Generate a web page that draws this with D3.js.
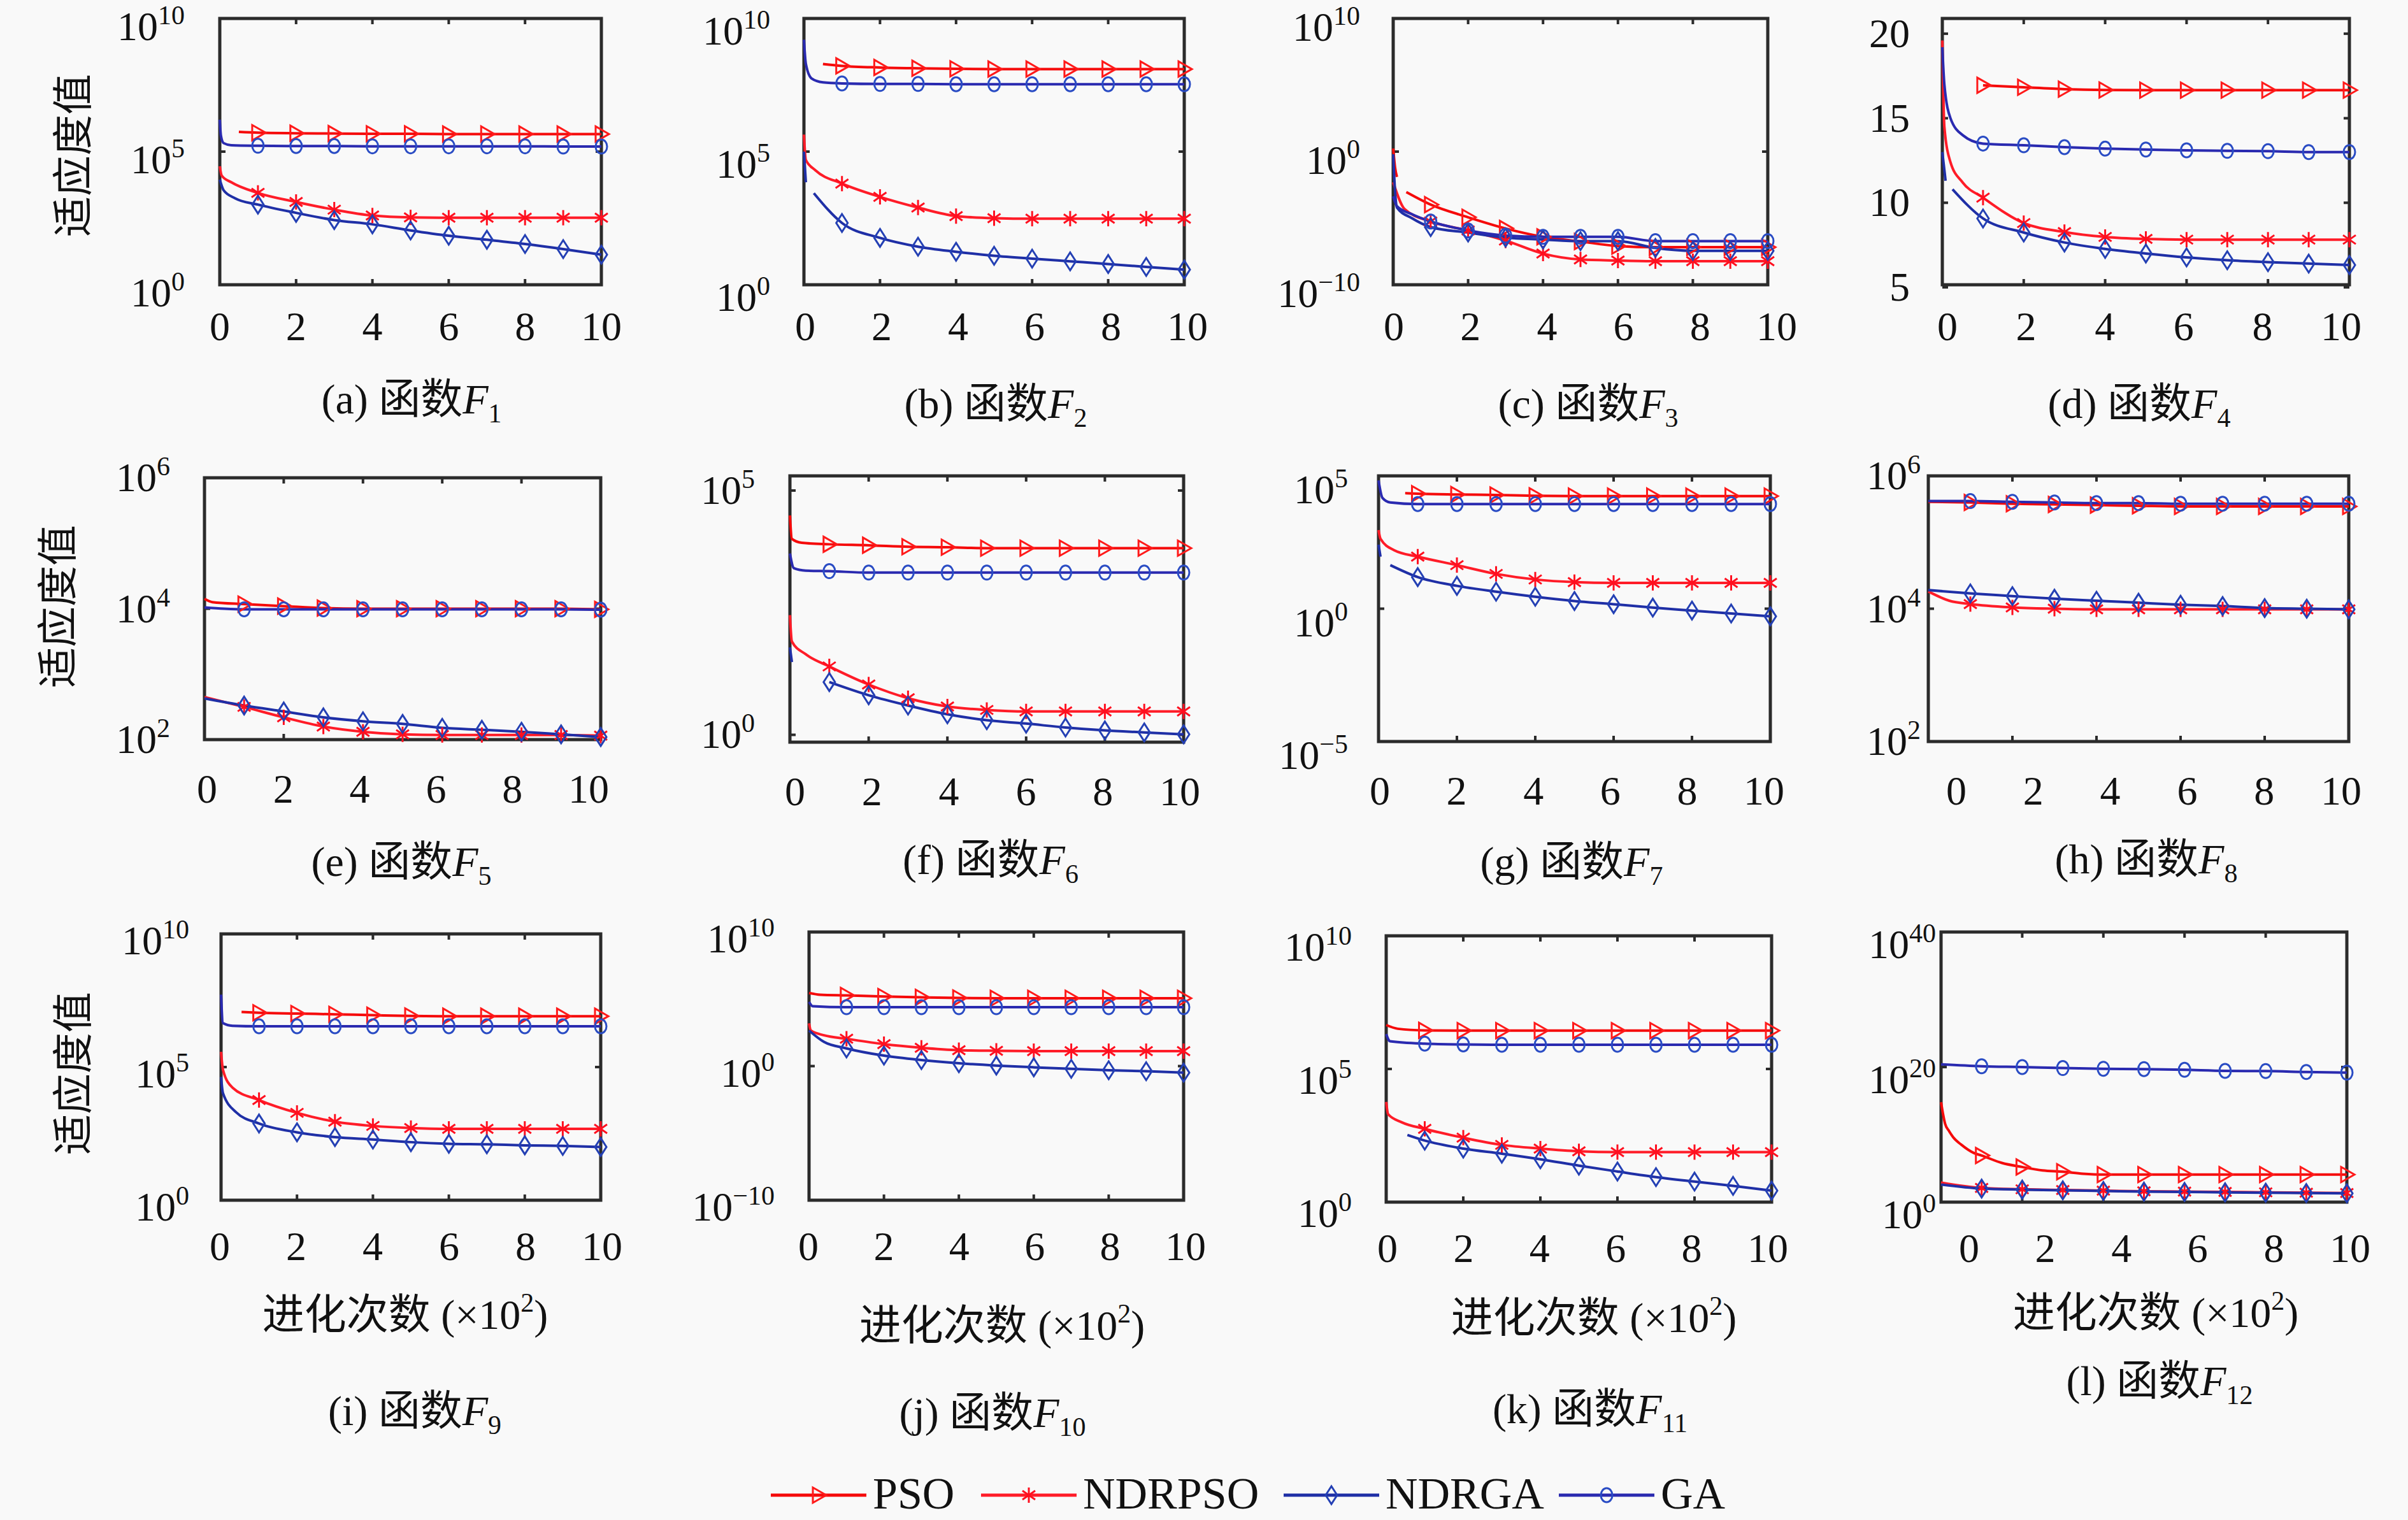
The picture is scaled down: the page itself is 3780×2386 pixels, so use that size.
<!DOCTYPE html>
<html>
<head>
<meta charset="utf-8">
<script src="https://cdn.jsdelivr.net/npm/d3@7"></script>
<style>
    html, body { margin: 0; padding: 0; background: #f9f9f9; }
    svg { display: block; }
    text { font-family: 'Liberation Serif', 'Noto Sans CJK SC', serif; fill: #111; }
</style>
</head>
<body>
<svg id="chart" width="3780" height="2386"></svg>
<script>
// ---------- data: [generation (x10^2), log10(fitness)]  (F4 is linear) ----------
const seriesNames = ["PSO", "NDRPSO", "NDRGA", "GA"];
const xTickValues = [0, 2, 4, 6, 8, 10];

const F1_PSO    = [[0.5,5.74],[1,5.71],[2,5.69],[3,5.68],[4,5.67],[5,5.67],[6,5.66],[7,5.66],[8,5.66],[9,5.66],[10,5.66]];
const F1_NDRPSO = [[0,4.45],[0.05,4.1],[0.3,3.85],[1,3.45],[2,3.11],[3,2.82],[4,2.6],[5,2.53],[6,2.52],[7,2.52],[8,2.52],[9,2.52],[10,2.52]];
const F1_NDRGA  = [[0,3.95],[0.1,3.55],[0.4,3.25],[1,3.01],[2,2.7],[3,2.43],[4,2.27],[5,2.04],[6,1.84],[7,1.69],[8,1.53],[9,1.34],[10,1.13]];
const F1_GA     = [[0,6.2],[0.03,5.6],[0.1,5.32],[0.3,5.24],[1,5.22],[2,5.21],[3,5.21],[4,5.2],[5,5.2],[6,5.2],[7,5.2],[8,5.2],[9,5.19],[10,5.19]];

const F2_PSO    = [[0.5,8.29],[1,8.22],[2,8.16],[3,8.13],[4,8.11],[5,8.1],[6,8.1],[7,8.1],[8,8.1],[9,8.1],[10,8.1]];
const F2_NDRPSO = [[0,5.64],[0.05,4.69],[0.3,4.3],[1,3.8],[2,3.3],[3,2.9],[4,2.58],[5,2.5],[6,2.48],[7,2.48],[8,2.48],[9,2.48],[10,2.48]];
const F2_NDRGA  = [[0,5.0],[0.05,3.85],[0.1,null],[0.26,3.44],[1,2.32],[2,1.76],[3,1.43],[4,1.24],[5,1.09],[6,0.98],[7,0.88],[8,0.78],[9,0.67],[10,0.57]];
const F2_GA     = [[0,9.2],[0.05,8.3],[0.2,7.75],[0.5,7.6],[1,7.56],[2,7.54],[3,7.54],[4,7.53],[5,7.53],[6,7.53],[7,7.53],[8,7.53],[9,7.53],[10,7.53]];

const F3_PSO    = [[0,0.23],[0.05,-1.2],[0.1,-1.9],[0.15,null],[0.35,-3.04],[1,-3.98],[2,-4.93],[3,-5.77],[4,-6.4],[5,-6.75],[6,-7.09],[7,-7.18],[8,-7.18],[9,-7.18],[10,-7.18]];
const F3_NDRPSO = [[0,-2.3],[0.3,-4.3],[1,-5.25],[2,-5.92],[3,-6.68],[4,-7.66],[5,-8.1],[6,-8.18],[7,-8.23],[8,-8.23],[9,-8.23],[10,-8.23]];
const F3_NDRGA  = [[0,-0.2],[0.05,-3.0],[0.1,-4.2],[0.5,-5.0],[1,-5.67],[2,-6.08],[3,-6.46],[4,-6.6],[5,-6.72],[6,-6.72],[7,-7.24],[8,-7.45],[9,-7.45],[10,-7.45]];
const F3_GA     = [[0,-3.36],[0.1,-4.1],[0.5,-4.7],[1,-5.25],[2,-5.92],[3,-6.3],[4,-6.4],[5,-6.4],[6,-6.4],[7,-6.72],[8,-6.72],[9,-6.72],[10,-6.72]];

const F4_PSO    = [[1,16.95],[2,16.83],[3,16.72],[4,16.67],[5,16.66],[6,16.66],[7,16.66],[8,16.66],[9,16.66],[10,16.66]];
const F4_NDRPSO = [[0,19.6],[0.05,14.5],[0.2,12.4],[0.5,11.2],[1,10.3],[2,8.8],[3,8.27],[4,7.98],[5,7.86],[6,7.82],[7,7.82],[8,7.82],[9,7.82],[10,7.82]];
const F4_NDRGA  = [[0,13.0],[0.08,11.3],[0.15,null],[0.25,10.8],[1,9.07],[2,8.24],[3,7.65],[4,7.27],[5,7.0],[6,6.77],[7,6.6],[8,6.49],[9,6.4],[10,6.32]];
const F4_GA     = [[0,19.2],[0.05,17.0],[0.2,15.0],[0.5,14.0],[1,13.5],[2,13.4],[3,13.29],[4,13.2],[5,13.15],[6,13.1],[7,13.07],[8,13.05],[9,13.0],[10,13.0]];

const F5_PSO    = [[0,4.15],[0.2,4.1],[1,4.07],[2,4.04],[3,4.01],[4,4.0],[5,4.0],[6,4.0],[7,4.0],[8,4.0],[9,4.0],[10,3.99]];
const F5_NDRPSO = [[0,2.65],[1,2.5],[2,2.34],[3,2.2],[4,2.12],[5,2.08],[6,2.07],[7,2.07],[8,2.07],[9,2.07],[10,2.06]];
const F5_NDRGA  = [[0,2.63],[1,2.52],[2,2.43],[3,2.34],[4,2.28],[5,2.24],[6,2.18],[7,2.15],[8,2.12],[9,2.08],[10,2.04]];
const F5_GA     = [[0,4.02],[0.5,4.0],[1,3.99],[2,3.99],[3,3.99],[4,3.99],[5,3.99],[6,3.99],[7,3.99],[8,3.99],[9,3.99],[10,3.985]];

const F6_PSO    = [[0,4.49],[0.05,4.01],[0.3,3.93],[1,3.9],[2,3.88],[3,3.85],[4,3.84],[5,3.82],[6,3.82],[7,3.82],[8,3.82],[9,3.82],[10,3.82]];
const F6_NDRPSO = [[0,2.45],[0.05,1.91],[0.4,1.65],[1,1.4],[2,1.03],[3,0.75],[4,0.58],[5,0.51],[6,0.48],[7,0.48],[8,0.48],[9,0.48],[10,0.48]];
const F6_NDRGA  = [[0,1.79],[0.05,1.49],[0.1,null],[1,1.08],[2,0.81],[3,0.6],[4,0.42],[5,0.3],[6,0.23],[7,0.15],[8,0.09],[9,0.05],[10,0.01]];
const F6_GA     = [[0,3.71],[0.1,3.41],[0.4,3.36],[1,3.35],[2,3.32],[3,3.32],[4,3.32],[5,3.32],[6,3.32],[7,3.32],[8,3.32],[9,3.32],[10,3.32]];

const F7_PSO    = [[0.68,4.35],[1,4.33],[2,4.3],[3,4.28],[4,4.25],[5,4.24],[6,4.24],[7,4.24],[8,4.24],[9,4.24],[10,4.24]];
const F7_NDRPSO = [[0,2.96],[0.05,2.63],[0.4,2.2],[1,1.96],[2,1.64],[3,1.31],[4,1.1],[5,1.0],[6,0.97],[7,0.97],[8,0.97],[9,0.97],[10,0.97]];
const F7_NDRGA  = [[0,2.41],[0.05,1.96],[0.15,null],[0.3,1.64],[1,1.19],[2,0.86],[3,0.64],[4,0.45],[5,0.29],[6,0.17],[7,0.04],[8,-0.07],[9,-0.18],[10,-0.29]];
const F7_GA     = [[0,4.83],[0.1,4.17],[0.3,4.0],[1,3.94],[2,3.94],[3,3.94],[4,3.94],[5,3.94],[6,3.94],[7,3.94],[8,3.94],[9,3.94],[10,3.94]];

const F8_PSO    = [[0,5.61],[1,5.6],[2,5.58],[3,5.57],[4,5.56],[5,5.55],[6,5.54],[7,5.54],[8,5.54],[9,5.54],[10,5.54]];
const F8_NDRPSO = [[0,4.26],[0.5,4.12],[1,4.07],[2,4.02],[3,4.0],[4,3.99],[5,3.99],[6,3.99],[7,3.99],[8,3.99],[9,3.99],[10,3.99]];
const F8_NDRGA  = [[0,4.28],[1,4.23],[2,4.19],[3,4.15],[4,4.12],[5,4.09],[6,4.06],[7,4.04],[8,4.01],[9,4.0],[10,3.99]];
const F8_GA     = [[0,5.62],[1,5.62],[2,5.61],[3,5.6],[4,5.59],[5,5.59],[6,5.58],[7,5.58],[8,5.58],[9,5.58],[10,5.58]];

const F9_PSO    = [[0.54,7.07],[1,7.04],[2,7.01],[3,6.98],[4,6.95],[5,6.92],[6,6.91],[7,6.91],[8,6.91],[9,6.91],[10,6.91]];
const F9_NDRPSO = [[0,5.57],[0.05,4.9],[0.3,4.23],[1,3.76],[2,3.28],[3,2.95],[4,2.79],[5,2.71],[6,2.68],[7,2.68],[8,2.68],[9,2.68],[10,2.68]];
const F9_NDRGA  = [[0,4.63],[0.05,4.02],[0.4,3.3],[1,2.88],[2,2.55],[3,2.37],[4,2.28],[5,2.18],[6,2.12],[7,2.1],[8,2.06],[9,2.04],[10,2.0]];
const F9_GA     = [[0,7.72],[0.05,6.65],[0.3,6.55],[1,6.53],[2,6.53],[3,6.53],[4,6.53],[5,6.53],[6,6.53],[7,6.53],[8,6.53],[9,6.53],[10,6.53]];

const F10_PSO    = [[0,5.45],[0.3,5.32],[1,5.27],[2,5.19],[3,5.13],[4,5.08],[5,5.06],[6,5.06],[7,5.06],[8,5.06],[9,5.06],[10,5.06]];
const F10_NDRPSO = [[0,3.19],[0.05,2.65],[0.4,2.3],[1,2.04],[2,1.64],[3,1.37],[4,1.19],[5,1.14],[6,1.12],[7,1.12],[8,1.12],[9,1.12],[10,1.12]];
const F10_NDRGA  = [[0,2.65],[0.4,1.8],[1,1.32],[2,0.78],[3,0.45],[4,0.21],[5,0.04],[6,-0.09],[7,-0.2],[8,-0.31],[9,-0.38],[10,-0.49]];
const F10_GA     = [[0,4.79],[0.1,4.47],[1,4.39],[2,4.39],[3,4.39],[4,4.39],[5,4.39],[6,4.39],[7,4.39],[8,4.39],[9,4.39],[10,4.39]];

const F11_PSO    = [[0,6.65],[0.3,6.51],[1,6.45],[2,6.44],[3,6.44],[4,6.44],[5,6.44],[6,6.44],[7,6.44],[8,6.44],[9,6.44],[10,6.44]];
const F11_NDRPSO = [[0,3.76],[0.05,3.3],[0.4,3.0],[1,2.75],[2,2.42],[3,2.15],[4,2.01],[5,1.91],[6,1.88],[7,1.88],[8,1.88],[9,1.88],[10,1.88]];
const F11_NDRGA  = [[0.55,2.52],[1,2.31],[2,2.01],[3,1.82],[4,1.61],[5,1.37],[6,1.15],[7,0.94],[8,0.77],[9,0.61],[10,0.43]];
const F11_GA     = [[0,6.31],[0.1,6.04],[1,5.95],[2,5.92],[3,5.91],[4,5.91],[5,5.91],[6,5.91],[7,5.91],[8,5.91],[9,5.91],[10,5.91]];

const F12_PSO    = [[0,14.8],[0.05,13.0],[0.1,11.6],[0.2,10.5],[0.3,9.6],[0.5,8.5],[0.8,7.3],[1,6.9],[1.5,5.8],[2,5.2],[2.5,4.7],[3,4.5],[3.5,4.2],[4,4.08],[5,4.08],[6,4.08],[7,4.08],[8,4.08],[9,4.08],[10,4.08]];
const F12_NDRPSO = [[0,2.9],[1,2.1],[2,1.9],[3,1.8],[4,1.7],[5,1.6],[6,1.55],[7,1.5],[8,1.45],[9,1.4],[10,1.35]];
const F12_NDRGA  = [[0,2.6],[1,2.0],[2,1.85],[3,1.75],[4,1.65],[5,1.55],[6,1.5],[7,1.45],[8,1.4],[9,1.35],[10,1.3]];
const F12_GA     = [[0,20.4],[1,20.12],[2,20.0],[3,19.85],[4,19.75],[5,19.7],[6,19.59],[7,19.43],[8,19.4],[9,19.27],[10,19.17]];

// y axis domain and ticks per function (exponents of 10, F4 linear)
const yDomains = [[0,10],[0,10],[-10,10],[5.15,20.9],[2,6],[-0.15,5.3],[-5,5],[2,6],[0,10],[-10,10],[0,10],[0,40]];
const yTickValues = [[0,5,10],[0,5,10],[-10,0,10],[5,10,15,20],[2,4,6],[0,5],[-5,0,5],[2,4,6],[0,5,10],[-10,0,10],[0,5,10],[0,20,40]];
const panelLetters = ["a","b","c","d","e","f","g","h","i","j","k","l"];

const funcSeries = [
    [F1_PSO, F1_NDRPSO, F1_NDRGA, F1_GA],
    [F2_PSO, F2_NDRPSO, F2_NDRGA, F2_GA],
    [F3_PSO, F3_NDRPSO, F3_NDRGA, F3_GA],
    [F4_PSO, F4_NDRPSO, F4_NDRGA, F4_GA],
    [F5_PSO, F5_NDRPSO, F5_NDRGA, F5_GA],
    [F6_PSO, F6_NDRPSO, F6_NDRGA, F6_GA],
    [F7_PSO, F7_NDRPSO, F7_NDRGA, F7_GA],
    [F8_PSO, F8_NDRPSO, F8_NDRGA, F8_GA],
    [F9_PSO, F9_NDRPSO, F9_NDRGA, F9_GA],
    [F10_PSO, F10_NDRPSO, F10_NDRGA, F10_GA],
    [F11_PSO, F11_NDRPSO, F11_NDRGA, F11_GA],
    [F12_PSO, F12_NDRPSO, F12_NDRGA, F12_GA]
];

// ---------- layout (pixel boxes of each panel, label nudges) ----------
const layout = [
    {x0:345,  x1:944,  y0:29,   y1:447,  yDy:13, yGap:55, xl:[0,0],    xDy:66, cap:[646,627]},
    {x0:1262, x1:1859, y0:29,   y1:447,  yDy:20, yGap:53, xl:[2,5],    xDy:66, cap:[1563,634]},
    {x0:2187, x1:2775, y0:29,   y1:447,  yDy:14, yGap:52, xl:[1,14],   xDy:66, cap:[2493,634]},
    {x0:3049, x1:3688, y0:29,   y1:447,  yDy:0,  yGap:51, xl:[8,-13],  xDy:66, cap:[3358,634]},
    {x0:321,  x1:943,  y0:750,  y1:1161, yDy:0,  yGap:54, xl:[4,-19],  xDy:78, cap:[630,1353]},
    {x0:1240, x1:1858, y0:747,  y1:1165, yDy:0,  yGap:55, xl:[8,-6],   xDy:78, cap:[1555,1350]},
    {x0:2164, x1:2779, y0:747,  y1:1164, yDy:22, yGap:48, xl:[2,-10],  xDy:78, cap:[2467,1353]},
    {x0:3027, x1:3687, y0:747,  y1:1164, yDy:0,  yGap:12, xl:[44,-12], xDy:78, cap:[3369,1349]},
    {x0:347,  x1:943,  y0:1466, y1:1884, yDy:11, yGap:50, xl:[-2,2],   xDy:73, cap:[651,2215],  xt:[636,2064]},
    {x0:1270, x1:1858, y0:1463, y1:1884, yDy:11, yGap:54, xl:[-1,3],   xDy:73, cap:[1558,2218], xt:[1573,2081]},
    {x0:2176, x1:2781, y0:1469, y1:1887, yDy:18, yGap:54, xl:[2,-6],   xDy:73, cap:[2496,2212], xt:[2502,2069]},
    {x0:3047, x1:3684, y0:1463, y1:1887, yDy:20, yGap:8,  xl:[44,5],   xDy:73, cap:[3390,2168], xt:[3384,2061]}
];
const yTitlePos = [[115,244],[91,952],[115,1685]];

const style = {
    PSO:    {line:"#f50a0a", mark:"#ff1a1a", shape:"tri"},
    NDRPSO: {line:"#ff1c28", mark:"#ff0f1f", shape:"star"},
    NDRGA:  {line:"#1f2fa6", mark:"#2440b4", shape:"diamond"},
    GA:     {line:"#2a2ab0", mark:"#2a4cc4", shape:"circle"}
};

function markerPath(shape) {
    if (shape === "tri") return "M-9,-12L12,0L-9,12Z";
    if (shape === "diamond") return "M0,-14L9,0L0,14L-9,0Z";
    if (shape === "star") return "M0,-12V12M-10,-7L10,7M-10,7L10,-7";
    return null;
}

function drawMarker(sel, shape, color) {
    if (shape === "circle") {
        sel.append("ellipse").attr("rx", 9).attr("ry", 11)
            .attr("fill", "none").attr("stroke", color).attr("stroke-width", 3);
    } else {
        sel.append("path").attr("d", markerPath(shape))
            .attr("fill", "none").attr("stroke", color).attr("stroke-width", 3);
    }
}

const svg = d3.select("#chart");
svg.append("rect").attr("width", 3780).attr("height", 2386).attr("fill", "#f9f9f9");

layout.forEach(function(p, i) {
    const g = svg.append("g").attr("class", "panel");
    const isLog = i !== 3;
    const dom = yDomains[i];
    const toVal = v => isLog ? Math.pow(10, v) : v;

    let x = d3.scaleLinear().domain([0, 10]).range([p.x0, p.x1]);
    let xLab = d3.scaleLinear().domain([0, 10]).range([p.x0 + p.xl[0], p.x1 + p.xl[1]]);
    let y = isLog
        ? d3.scaleLog().domain([toVal(dom[0]), toVal(dom[1])]).range([p.y1, p.y0])
        : d3.scaleLinear().domain(dom).range([p.y1, p.y0]);

    // frame
    g.append("rect")
        .attr("x", p.x0).attr("y", p.y0)
        .attr("width", p.x1 - p.x0).attr("height", p.y1 - p.y0)
        .attr("fill", "none").attr("stroke", "#2b2b2b").attr("stroke-width", 5);

    // inner tick marks
    xTickValues.forEach(function(t) {
        g.append("line").attr("x1", x(t)).attr("x2", x(t)).attr("y1", p.y0).attr("y2", p.y0 + 9)
            .attr("stroke", "#2b2b2b").attr("stroke-width", 4);
        g.append("line").attr("x1", x(t)).attr("x2", x(t)).attr("y1", p.y1).attr("y2", p.y1 - 9)
            .attr("stroke", "#2b2b2b").attr("stroke-width", 4);
    });
    yTickValues[i].forEach(function(t) {
        let ty = y(toVal(t));
        g.append("line").attr("x1", p.x0).attr("x2", p.x0 + 9).attr("y1", ty).attr("y2", ty)
            .attr("stroke", "#2b2b2b").attr("stroke-width", 4);
        g.append("line").attr("x1", p.x1).attr("x2", p.x1 - 9).attr("y1", ty).attr("y2", ty)
            .attr("stroke", "#2b2b2b").attr("stroke-width", 4);
    });

    // x tick labels
    xTickValues.forEach(function(t) {
        g.append("text")
            .attr("x", xLab(t)).attr("y", p.y1 + p.xDy + 21)
            .attr("text-anchor", "middle").attr("font-size", 64)
            .text(t);
    });

    // y tick labels
    yTickValues[i].forEach(function(t) {
        let ty = y(toVal(t)) + p.yDy;
        let txt = g.append("text")
            .attr("x", p.x0 - p.yGap).attr("y", ty + 21)
            .attr("text-anchor", "end").attr("font-size", 64);
        if (isLog) {
            txt.append("tspan").text("10");
            txt.append("tspan").attr("font-size", 42).attr("dy", -25)
                .text(t < 0 ? "\u2212" + (-t) : t);
        } else {
            txt.text(t);
        }
    });

    // lines
    let line = d3.line()
        .defined(d => d[1] !== null)
        .x(d => x(d[0]))
        .y(d => y(toVal(d[1])))
        .curve(d3.curveMonotoneX);

    funcSeries[i].forEach(function(data, k) {
        let st = style[seriesNames[k]];
        g.append("path")
            .datum(data)
            .attr("d", line)
            .attr("fill", "none")
            .attr("stroke", st.line)
            .attr("stroke-width", 4);
    });

    // markers at every 100 generations
    funcSeries[i].forEach(function(data, k) {
        let st = style[seriesNames[k]];
        let pts = data.filter(d => d[1] !== null && d[0] >= 1 && Number.isInteger(d[0]));
        g.selectAll(null)
            .data(pts)
            .enter().append("g")
            .attr("transform", d => "translate(" + x(d[0]) + "," + y(toVal(d[1])) + ")")
            .each(function() { drawMarker(d3.select(this), st.shape, st.mark); });
    });

    // caption
    let cap = g.append("text")
        .attr("x", p.cap[0]).attr("y", p.cap[1] + 22)
        .attr("text-anchor", "middle").attr("font-size", 66);
    cap.append("tspan").text("(" + panelLetters[i] + ") 函数");
    cap.append("tspan").attr("font-style", "italic").text("F");
    cap.append("tspan").attr("font-size", 42).attr("dy", 14).text(i + 1);

    // x axis title on the last row
    if (p.xt) {
        let xt = g.append("text")
            .attr("x", p.xt[0]).attr("y", p.xt[1] + 22)
            .attr("text-anchor", "middle").attr("font-size", 66);
        xt.append("tspan").text("进化次数 (×10");
        xt.append("tspan").attr("font-size", 42).attr("dy", -27).text("2");
        xt.append("tspan").attr("dy", 27).text(")");
    }
});

// y axis titles
yTitlePos.forEach(function(pos) {
    svg.append("text")
        .attr("transform", "translate(" + pos[0] + "," + pos[1] + ") rotate(-90)")
        .attr("text-anchor", "middle").attr("dominant-baseline", "central")
        .attr("font-size", 64)
        .text("适应度值");
});

// legend
const legendX = [1210, 1540, 2015, 2447];
const legend = svg.append("g").attr("class", "legend");
seriesNames.forEach(function(name, k) {
    let st = style[name];
    let lx = legendX[k];
    legend.append("line")
        .attr("x1", lx).attr("x2", lx + 150).attr("y1", 2347).attr("y2", 2347)
        .attr("stroke", st.line).attr("stroke-width", 5);
    let m = legend.append("g").attr("transform", "translate(" + (lx + 75) + ",2347)");
    drawMarker(m, st.shape, st.mark);
    legend.append("text")
        .attr("x", lx + 160).attr("y", 2368)
        .attr("font-size", 70)
        .text(name);
});
</script>
</body>
</html>
